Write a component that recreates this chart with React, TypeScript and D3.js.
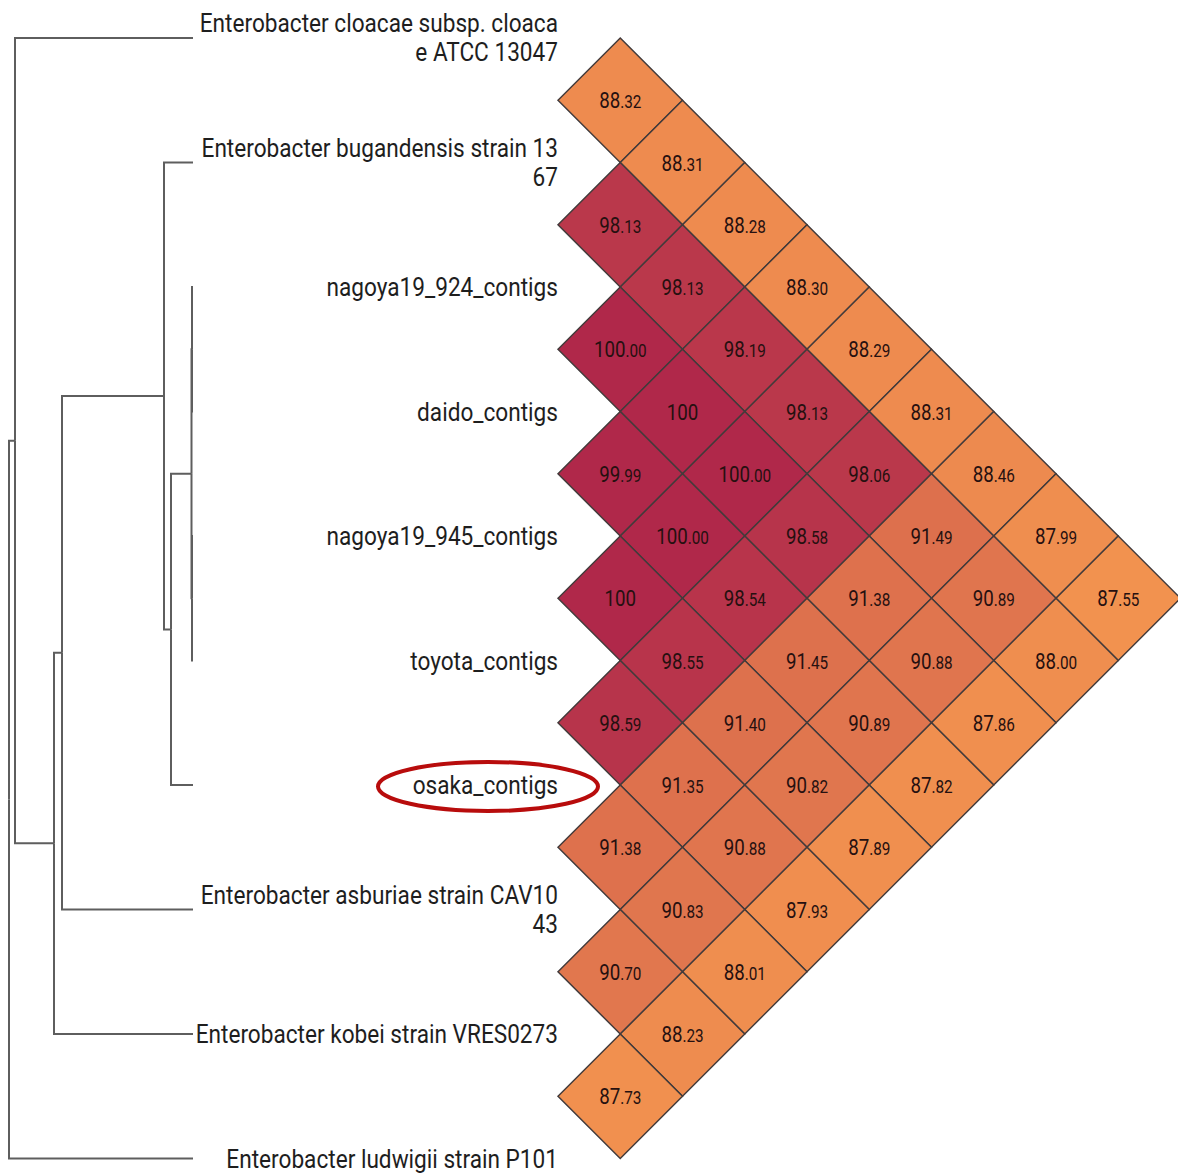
import React from 'react';
import * as d3 from 'd3';

// leaf labels, top to bottom (lines split where the original wraps)
const leafLabels = [
  ['Enterobacter cloacae subsp. cloaca', 'e ATCC 13047'],
  ['Enterobacter bugandensis strain 13', '67'],
  ['nagoya19_924_contigs'],
  ['daido_contigs'],
  ['nagoya19_945_contigs'],
  ['toyota_contigs'],
  ['osaka_contigs'],
  ['Enterobacter asburiae strain CAV10', '43'],
  ['Enterobacter kobei strain VRES0273'],
  ['Enterobacter ludwigii strain P101'],
];

// ANI values, row i holds pairs (i, j) for j > i
const aniRows = [
  ['88.32', '88.31', '88.28', '88.30', '88.29', '88.31', '88.46', '87.99', '87.55'],
  ['98.13', '98.13', '98.19', '98.13', '98.06', '91.49', '90.89', '88.00'],
  ['100.00', '100', '100.00', '98.58', '91.38', '90.88', '87.86'],
  ['99.99', '100.00', '98.54', '91.45', '90.89', '87.82'],
  ['100', '98.55', '91.40', '90.82', '87.89'],
  ['98.59', '91.35', '90.88', '87.93'],
  ['91.38', '90.83', '88.01'],
  ['90.70', '88.23'],
  ['87.73'],
];

// dendrogram: leaf = index into leafLabels, h = node height
type Node = { leaf?: number; h?: number; children?: Node[] };
const tree: Node = {
  h: 18.4,
  children: [
    {
      h: 17.8,
      children: [
        { leaf: 0 },
        {
          h: 13.9,
          children: [
            {
              h: 13.1,
              children: [
                {
                  h: 2.9,
                  children: [
                    { leaf: 1 },
                    {
                      h: 2.2,
                      children: [
                        {
                          h: 0.15,
                          children: [
                            { h: 0.1, children: [{ leaf: 2 }, { leaf: 3 }] },
                            { h: 0.1, children: [{ leaf: 4 }, { leaf: 5 }] },
                          ],
                        },
                        { leaf: 6 },
                      ],
                    },
                  ],
                },
                { leaf: 7 },
              ],
            },
            { leaf: 8 },
          ],
        },
      ],
    },
    { leaf: 9 },
  ],
};

const highlighted = 6;

const W = 1178;
const H = 1173;
const FONT = 'Roboto, "Noto Sans", sans-serif';

export default function App() {
  const n = leafLabels.length;
  const y = d3.scaleLinear().domain([0, n - 1]).range([38, 1158.5]);
  const step = y(1) - y(0);
  const half = step / 2;
  const hx = d3.scaleLinear().domain([0, 18.4]).range([193, 9]);
  const xHeat = d3.scaleLinear().domain([0, 1]).range([558, 558 + half]);
  const color = d3
    .scaleLinear<string>()
    .domain([87.5, 100])
    .range(['#f2924f', '#b0284a'])
    .interpolate(d3.interpolateRgb);

  const root = d3.hierarchy<Node>(tree);
  const pos = new Map<any, { x: number; y: number }>();
  root.eachAfter((d) => {
    if (d.data.leaf !== undefined) {
      pos.set(d, { x: hx(0), y: y(d.data.leaf) });
    } else {
      const ys = d.children!.map((c) => pos.get(c)!.y);
      pos.set(d, { x: hx(d.data.h ?? 0), y: (ys[0] + ys[ys.length - 1]) / 2 });
    }
  });
  const links = root.links().map((l) => {
    const p = pos.get(l.source)!;
    const c = pos.get(l.target)!;
    return `M${p.x},${p.y}V${c.y}H${c.x}`;
  });

  const cells: { i: number; j: number; label: string; v: number }[] = [];
  aniRows.forEach((row, i) =>
    row.forEach((label, k) => cells.push({ i, j: i + 1 + k, label, v: +label }))
  );

  return (
    <svg
      width={W}
      height={H}
      style={{ position: 'absolute', left: 0, top: 0, background: '#fff' }}
    >
      <g fill="none" stroke="#5e5e5e" strokeWidth={2}>
        {links.map((d, k) => (
          <path key={k} d={d} />
        ))}
      </g>
      <g>
        {cells.map((c, k) => {
          const cx = xHeat(c.j - c.i);
          const cy = (y(c.i) + y(c.j)) / 2;
          const [intPart, dec] = c.label.split('.');
          return (
            <g key={k}>
              <path
                d={`M${cx - half},${cy}L${cx},${cy - half}L${cx + half},${cy}L${cx},${cy + half}Z`}
                fill={color(c.v)}
                stroke="#433b3b"
                strokeWidth={1.5}
              />
              <text
                transform={`translate(${cx},${cy + 8}) scale(0.85,1)`}
                textAnchor="middle"
                fontFamily={FONT}
                fill="#261010"
              >
                <tspan fontSize={22}>{intPart}</tspan>
                {dec !== undefined && <tspan fontSize={18}>{'.' + dec}</tspan>}
              </text>
            </g>
          );
        })}
      </g>
      <g fontFamily={FONT} fontSize={26} fill="#1e1e1e">
        {leafLabels.map((lines, k) => {
          const ly = y(k);
          const base = lines.length > 1 ? ly - 6 : ly + 9;
          return lines.map((t, m) => (
            <text
              key={`${k}-${m}`}
              transform={`translate(558,${base + m * 29}) scale(0.87,1)`}
              textAnchor="end"
            >
              {t}
            </text>
          ));
        })}
      </g>
      <ellipse
        cx={488}
        cy={y(highlighted) + 1.5}
        rx={110}
        ry={24.5}
        fill="none"
        stroke="#b80c0c"
        strokeWidth={4}
      />
    </svg>
  );
}
